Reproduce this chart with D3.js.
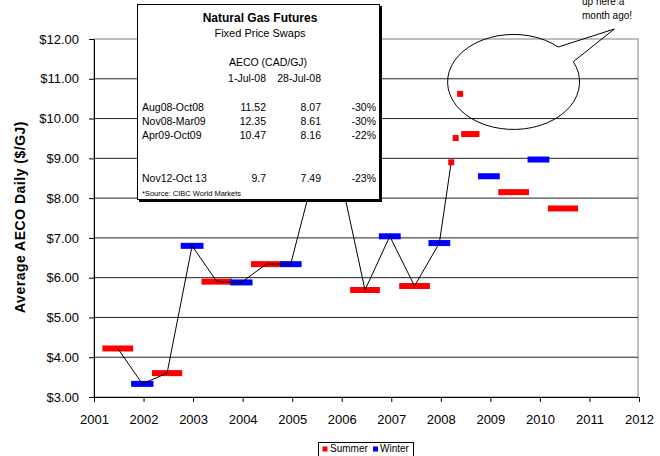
<!DOCTYPE html>
<meta charset="utf-8">
<style>
  body { margin: 0; background: #fff; }
  text { font-family: Arial, "Liberation Sans", sans-serif; }
</style>
<body>

<svg width="660" height="456"></svg>

<script src="https://d3js.org/d3.v7.min.js"></script>
<script>

// seasonal averages, AECO daily ($/GJ)
var season = ["Summer","Winter","Summer","Winter","Summer","Winter","Summer","Winter","Summer","Winter",
              "Summer","Winter","Summer","Winter","Summer","Winter","Summer","Winter","Summer"];
var periodStart = [2001.17, 2001.75, 2002.17, 2002.75, 2003.17, 2003.75, 2004.17, 2004.75, 2005.17, 2005.75,
                   2006.17, 2006.75, 2007.16, 2007.75, 2008.41, 2008.75, 2009.16, 2009.75, 2010.16];
var periodEnd   = [2001.79, 2002.20, 2002.78, 2003.21, 2003.79, 2004.20, 2004.78, 2005.19, 2005.78, 2006.19,
                   2006.77, 2007.19, 2007.78, 2008.19, 2008.78, 2009.19, 2009.78, 2010.19, 2010.77];
var avgPrice    = [4.22, 3.33, 3.60, 6.80, 5.90, 5.88, 6.34, 6.34, 8.77, 8.58,
                   5.69, 7.04, 5.79, 6.87, 9.61, 8.55, 8.15, 8.97, 7.74];
var forward     = [0,0,0,0,0,0,0,0,0,0, 0,0,0,0, 1,1,1,1,1];

// monthly points 2008
var monthDate  = [2008.21, 2008.30, 2008.39];
var monthPrice = [8.90, 9.51, 10.62];

var xTicks = [2001, 2002, 2003, 2004, 2005, 2006, 2007, 2008, 2009, 2010, 2011, 2012];
var yTicks = [3, 4, 5, 6, 7, 8, 9, 10, 11, 12];

// futures table
var tableRows = ["Aug08-Oct08", "Nov08-Mar09", "Apr09-Oct09", "Nov12-Oct 13"];
var jul1      = ["11.52", "12.35", "10.47", "9.7"];
var jul28     = ["8.07", "8.61", "8.16", "7.49"];
var change    = ["-30%", "-30%", "-22%", "-23%"];

var colors = { Summer: "#ff0000", Winter: "#0000ff" };

var svg = d3.select("svg");

var x = d3.scaleLinear().domain([2001, 2012]).range([94, 639]);
var y = d3.scaleLinear().domain([3, 12]).range([397, 39]);

// plot border + gridlines
svg.append("rect")
  .attr("x", 94).attr("y", 39).attr("width", 544).attr("height", 358)
  .attr("fill", "none").attr("stroke", "#808080");

svg.append("g").selectAll("line")
  .data(yTicks.filter(function(d) { return d > 3 && d < 12; }))
  .join("line")
  .attr("x1", 94).attr("x2", 638)
  .attr("y1", function(d) { return y(d); }).attr("y2", function(d) { return y(d); })
  .attr("stroke", "#222");

// axes
var yAxis = svg.append("g")
  .attr("transform", "translate(94,0)")
  .call(d3.axisLeft(y).tickValues(yTicks).tickFormat(d3.format("$.2f"))
    .tickSize(5).tickSizeOuter(0).tickPadding(10));
var xAxis = svg.append("g")
  .attr("transform", "translate(0,397)")
  .call(d3.axisBottom(x).tickValues(xTicks).tickFormat(d3.format("d"))
    .tickSize(5).tickSizeOuter(0).tickPadding(13));
[yAxis, xAxis].forEach(function(a) {
  a.selectAll("text").attr("font-family", "Arial, 'Liberation Sans', sans-serif")
    .attr("font-size", 13).attr("fill", "#000");
  a.selectAll("line, path").attr("stroke", "#000");
});

svg.append("text")
  .attr("transform", "translate(25,217) rotate(-90)")
  .attr("text-anchor", "middle")
  .attr("font-size", 14).attr("font-weight", "bold")
  .attr("letter-spacing", 0.5)
  .text("Average AECO Daily ($/GJ)");

// seasonal bars
var idx = d3.range(avgPrice.length);
svg.append("g").selectAll("rect")
  .data(idx)
  .join("rect")
  .attr("x", function(i) { return x(periodStart[i]); })
  .attr("width", function(i) { return x(periodEnd[i]) - x(periodStart[i]); })
  .attr("y", function(i) { return y(avgPrice[i]) - 3; })
  .attr("height", 6)
  .attr("fill", function(i) { return colors[season[i]]; });

// connecting line through historical periods to first monthly point
var linePts = idx.filter(function(i) { return !forward[i]; })
  .map(function(i) { return [(periodStart[i] + periodEnd[i]) / 2, avgPrice[i]]; });
linePts.push([monthDate[0], monthPrice[0]]);

svg.append("path")
  .attr("d", d3.line().x(function(d) { return x(d[0]); }).y(function(d) { return y(d[1]); })(linePts))
  .attr("fill", "none").attr("stroke", "#000").attr("stroke-width", 1);

// monthly squares
svg.append("g").selectAll("rect")
  .data(monthDate)
  .join("rect")
  .attr("x", function(d) { return x(d) - 3; })
  .attr("y", function(d, i) { return y(monthPrice[i]) - 3; })
  .attr("width", 6).attr("height", 6)
  .attr("fill", colors.Summer);

// speech bubble
var cx = 513.5, cy = 81.8, rx = 66, ry = 47.5;
svg.append("path")
  .attr("d", "M573.3,61.7 L614.3,29 L558.3,47 A" + rx + "," + ry + " 0 1 0 573.3,61.7")
  .attr("fill", "none").attr("stroke", "#000").attr("stroke-width", 1);

svg.append("text").attr("x", 582).attr("y", 5).attr("font-size", 10).text("up here a");
svg.append("text").attr("x", 582).attr("y", 18.5).attr("font-size", 10).text("month ago!");

// futures table box
var box = svg.append("g");
box.append("rect").attr("x", 139).attr("y", 6).attr("width", 243).attr("height", 196).attr("fill", "#000");
box.append("rect").attr("x", 137.5).attr("y", 4.5).attr("width", 242).attr("height", 195)
  .attr("fill", "#fff").attr("stroke", "#000");

box.append("text").attr("x", 260).attr("y", 22).attr("text-anchor", "middle")
  .attr("font-size", 12).attr("font-weight", "bold").text("Natural Gas Futures");
box.append("text").attr("x", 260).attr("y", 37).attr("text-anchor", "middle")
  .attr("font-size", 11).text("Fixed Price Swaps");
box.append("text").attr("x", 268).attr("y", 66).attr("text-anchor", "middle")
  .attr("font-size", 10.5).text("AECO (CAD/GJ)");
box.append("text").attr("x", 266).attr("y", 82).attr("text-anchor", "end")
  .attr("font-size", 10.5).text("1-Jul-08");
box.append("text").attr("x", 321).attr("y", 82).attr("text-anchor", "end")
  .attr("font-size", 10.5).text("28-Jul-08");

var rowY = [111, 125, 139, 182];
tableRows.forEach(function(r, i) {
  box.append("text").attr("x", 142).attr("y", rowY[i]).attr("font-size", 10.5).text(r);
  box.append("text").attr("x", 266).attr("y", rowY[i]).attr("text-anchor", "end").attr("font-size", 10.5).text(jul1[i]);
  box.append("text").attr("x", 321).attr("y", rowY[i]).attr("text-anchor", "end").attr("font-size", 10.5).text(jul28[i]);
  box.append("text").attr("x", 376).attr("y", rowY[i]).attr("text-anchor", "end").attr("font-size", 10.5).text(change[i]);
});
box.append("text").attr("x", 142).attr("y", 196).attr("font-size", 7.5).text("*Source: CIBC World Markets");

// legend
var leg = svg.append("g");
leg.append("rect").attr("x", 318.5).attr("y", 442.5).attr("width", 95).attr("height", 20)
  .attr("fill", "#fff").attr("stroke", "#000");
leg.append("rect").attr("x", 322.5).attr("y", 446.5).attr("width", 5).attr("height", 5).attr("fill", colors.Summer);
leg.append("text").attr("x", 330).attr("y", 452).attr("font-size", 10).text("Summer");
leg.append("rect").attr("x", 373).attr("y", 446.5).attr("width", 5).attr("height", 5).attr("fill", colors.Winter);
leg.append("text").attr("x", 380).attr("y", 452).attr("font-size", 10).text("Winter");

// caption cut off at bottom
svg.append("text").attr("x", 577).attr("y", 468)
  .attr("font-family", "'Liberation Serif', 'Times New Roman', serif")
  .attr("font-size", 17).attr("fill", "#444").text("Figure 3");

</script>
